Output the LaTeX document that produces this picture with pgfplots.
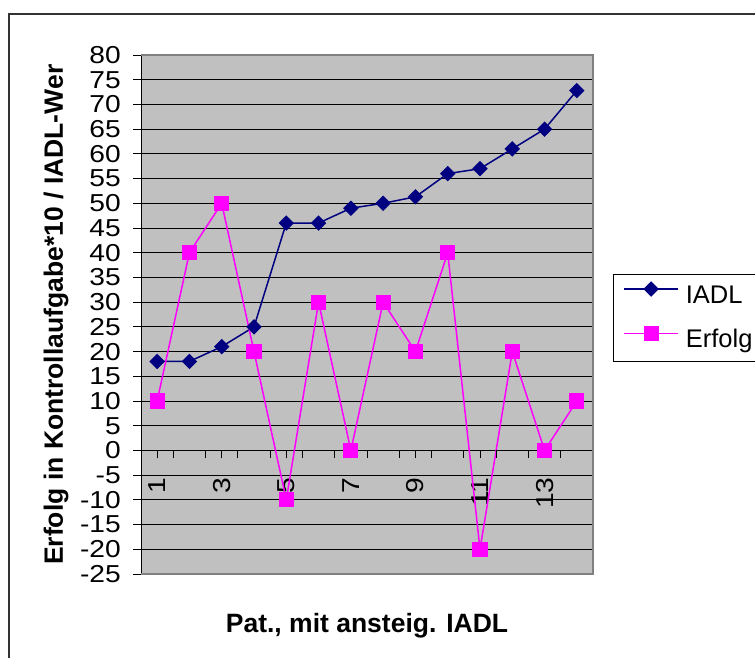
\documentclass[border=0pt]{standalone}
\usepackage{pgfplots}
\pgfplotsset{compat=1.18}
\usepackage{fontspec}
\setmainfont{Liberation Sans}
\newfontfamily\tickfont{Liberation Sans}[FakeStretch=1.15]
\definecolor{navy}{RGB}{0,0,128}
\definecolor{pmag}{RGB}{255,0,255}
\definecolor{plotgray}{RGB}{192,192,192}
\definecolor{framegray}{RGB}{128,128,128}
\begin{document}
\begin{tikzpicture}
\useasboundingbox (0,0) rectangle (755pt,657pt);
\draw[line width=1.2pt, black!80] (9pt,-5pt) -- (9pt,643pt) -- (760pt,643pt);
\begin{axis}[
  at={(141pt,83pt)}, anchor=south west,
  scale only axis, width=452pt, height=519pt,
  xmin=0.5, xmax=14.5, ymin=-25, ymax=80,
  axis background/.style={fill=plotgray},
  axis x line=middle, axis y line=left,
  axis line style={-, black, line width=1pt},
  ytick={-25,-20,...,80},
  yticklabels={-25,-20,-15,-10,-5,0,5,10,15,20,25,30,35,40,45,50,55,60,65,70,75,80},
  xtick={1,3,5,7,9,11,13},
  xticklabels={1,3,5,7,9,11,13},
  tick align=outside,
  major tick length=8pt,
  tick style={black, line width=0.8pt},
  ymajorgrids, grid style={black, line width=0.8pt},
  tick label style={font=\tickfont\fontsize{24.5}{28}\selectfont},
  yticklabel style={anchor=east, inner sep=0pt, xshift=-12pt},
  xticklabel style={yshift=-19pt, rotate=90, anchor=east, inner sep=0pt},
  every axis x label/.style={at={(axis description cs:0.5,-0.1118)}, anchor=base, inner sep=0pt, font=\fontsize{26.5}{30}\selectfont\bfseries},
  every axis y label/.style={at={(axis description cs:-0.1726,0.0173)}, anchor=base west, rotate=90, inner sep=0pt, font=\fontsize{26.5}{30}\selectfont\bfseries},
  xlabel={Pat., mit ansteig. IADL},
  ylabel={Erfolg in Kontrollaufgabe*10 / IADL-Wer},
  legend style={at={(axis description cs:1.0442,0.578)}, anchor=north west, draw=black, line width=0.8pt, fill=white,
    inner xsep=10pt, inner ysep=8pt, row sep=17pt, column sep=7pt,
    nodes={inner sep=0pt, text height=19pt, text depth=6pt, font=\fontsize{25.5}{30}\selectfont}},
  legend cell align=left,
  legend image code/.code={\draw[mark repeat=2,mark phase=2] plot coordinates {(0pt,8pt) (27pt,8pt) (54pt,8pt)};},
  clip=false,
]
\addplot[navy, line width=1.5pt, mark=square*, mark size=4.7pt, mark options={rotate=45, fill=navy, solid}]
  coordinates {(1,18) (2,18) (3,21) (4,25) (5,46) (6,46) (7,49) (8,50) (9,51.3) (10,56) (11,57) (12,61) (13,65) (14,72.8)};
\addplot[pmag, line width=1.5pt, mark=square*, mark size=6.8pt, mark options={fill=pmag, solid}]
  coordinates {(1,10) (2,40) (3,50) (4,20) (5,-10) (6,30) (7,0) (8,30) (9,20) (10,40) (11,-20) (12,20) (13,0) (14,10)};
\legend{IADL, Erfolg}
\pgfplotsinvokeforeach{1.5,2.5,3.5,4.5,5.5,6.5,7.5,8.5,9.5,10.5,11.5,12.5,13.5}{
  \draw[black, line width=0.8pt] (axis cs:#1,0) -- ++(0pt,-8pt);
}
\draw[framegray, line width=1.5pt] (rel axis cs:0,1) -- (rel axis cs:1,1) -- (rel axis cs:1,0) -- (rel axis cs:0,0);
\end{axis}
\end{tikzpicture}
\end{document}
